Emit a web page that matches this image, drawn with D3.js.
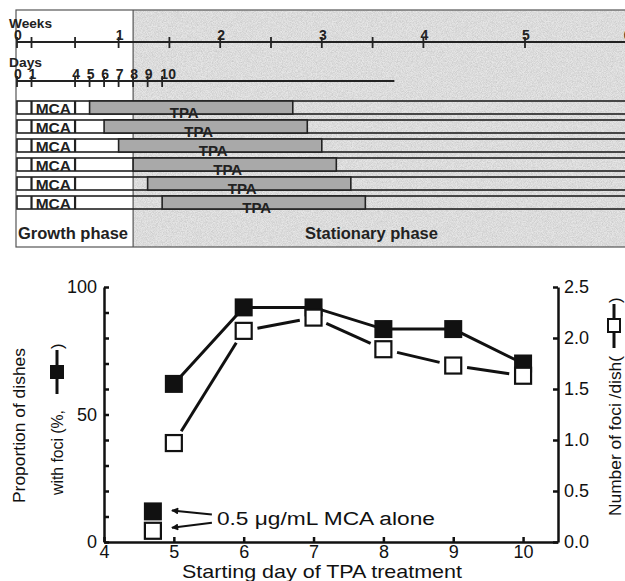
<!DOCTYPE html>
<html>
<head>
<meta charset="utf-8">
<script src="https://cdn.jsdelivr.net/npm/d3@7"></script>
<style>
  body { margin: 0; background: #fff; }
  svg { display: block; }
  .bold { font-family: "Liberation Sans", Arial, sans-serif; font-weight: bold; fill: #222; }
  .lab { font-family: "Liberation Sans", Arial, sans-serif; fill: #111; }
</style>
</head>
<body>
<svg id="chart"></svg>
<script>
// ---- data: timeline panel ----
const weekTickDays = [0, 1, 4, 7, 10.5, 14, 17.5, 21, 24.5, 28, 35, 42];
const weekLabels = [0, 1, 2, 3, 4, 5, 6];
const dayTicks = [0, 1, 4, 5, 6, 7, 8, 9, 10];
const mcaPeriod = [1, 4];
const tpaStarts = [5, 6, 7, 8, 9, 10];
const tpaLength = 14;
const growthEnd = 8;
const dayLineEnd = 26;

// ---- data: result chart ----
const startDays = [5, 6, 7, 8, 9, 10];
const propDishes = [62, 92, 92, 83.5, 83.5, 70];   // % (filled squares)
const fociPerDish = [0.97, 2.07, 2.2, 1.89, 1.73, 1.63]; // open squares
const aloneDay = 4.7;
const aloneProp = 12;
const aloneFoci = 0.11;
const leftTicks = [0, 10, 20, 30, 40, 50, 60, 70, 80, 90, 100];
const rightTicks = [0, 0.5, 1, 1.5, 2, 2.5];
const xTicks = [4, 5, 6, 7, 8, 9, 10];

const svg = d3.select("#chart").attr("width", 625).attr("height", 581);
const defs = svg.append("defs");

// grainy grey like the scanned original
const grain = defs.append("filter").attr("id", "grain").attr("x", 0).attr("y", 0)
  .attr("width", 1).attr("height", 1);
grain.append("feTurbulence").attr("type", "fractalNoise").attr("baseFrequency", 1.2)
  .attr("numOctaves", 1).attr("seed", 3).attr("result", "n");
grain.append("feColorMatrix").attr("in", "n").attr("type", "matrix")
  .attr("values", "0 0 0 0 0  0 0 0 0 0  0 0 0 0 0  0 0 0 0.5 -0.15").attr("result", "dots");
grain.append("feComposite").attr("in", "dots").attr("in2", "SourceGraphic").attr("operator", "atop");

// ================= top panel =================
const xd = d3.scaleLinear().domain([0, 35]).range([17, 525]);
const panel = svg.append("g");

panel.append("rect").attr("x", xd(growthEnd)).attr("y", 10)
  .attr("width", 700).attr("height", 237).attr("fill", "#e6e6e6").attr("filter", "url(#grain)");
panel.append("rect").attr("x", 16).attr("y", 10)
  .attr("width", xd(growthEnd) - 16).attr("height", 237).attr("fill", "#fff");
panel.append("rect").attr("x", 16).attr("y", 10).attr("width", 700).attr("height", 237)
  .attr("fill", "none").attr("stroke", "#555").attr("stroke-width", 1.2);
panel.append("line").attr("x1", xd(growthEnd)).attr("x2", xd(growthEnd))
  .attr("y1", 10).attr("y2", 247).attr("stroke", "#555").attr("stroke-width", 1.2);

// weeks axis
const weekY = 42;
panel.append("line").attr("x1", xd(0)).attr("x2", 640).attr("y1", weekY).attr("y2", weekY)
  .attr("stroke", "#222").attr("stroke-width", 2);
panel.selectAll(".wt").data(weekTickDays).join("line")
  .attr("x1", d => xd(d)).attr("x2", d => xd(d))
  .attr("y1", weekY - 5).attr("y2", weekY + 6)
  .attr("stroke", "#222").attr("stroke-width", 1.8);
panel.selectAll(".wl").data(weekLabels).join("text").attr("class", "bold")
  .attr("x", d => xd(d * 7) + 1).attr("y", weekY - 2)
  .attr("text-anchor", "middle").attr("font-size", 14).text(d => d);
panel.append("text").attr("class", "bold").attr("x", 9).attr("y", 28)
  .attr("font-size", 12.5).attr("textLength", 43).attr("lengthAdjust", "spacingAndGlyphs").text("Weeks");

// days axis
const dayY = 81;
panel.append("line").attr("x1", xd(0)).attr("x2", xd(dayLineEnd)).attr("y1", dayY).attr("y2", dayY)
  .attr("stroke", "#222").attr("stroke-width", 2);
panel.selectAll(".dt").data(dayTicks).join("line")
  .attr("x1", d => xd(d)).attr("x2", d => xd(d))
  .attr("y1", dayY - 5).attr("y2", dayY + 6)
  .attr("stroke", "#222").attr("stroke-width", 1.8);
panel.selectAll(".dl").data(dayTicks).join("text").attr("class", "bold")
  .attr("x", d => xd(d) + (d === 10 ? 6 : 1)).attr("y", dayY - 2)
  .attr("text-anchor", "middle").attr("font-size", 14).text(d => d);
panel.append("text").attr("class", "bold").attr("x", 9).attr("y", 67)
  .attr("font-size", 12.5).attr("textLength", 33).attr("lengthAdjust", "spacingAndGlyphs").text("Days");

// treatment rows
const rowY = d3.scaleBand().domain(d3.range(tpaStarts.length)).range([101, 209]).paddingInner(0.316);
const rows = panel.selectAll(".row").data(tpaStarts).join("g")
  .attr("transform", (d, i) => `translate(0,${rowY(i)})`);
const rh = rowY.bandwidth();
rows.append("rect").attr("x", xd(0)).attr("y", 0).attr("width", 700).attr("height", rh)
  .attr("fill", "none").attr("stroke", "#222").attr("stroke-width", 1.6);
rows.selectAll(".mcaSep").data(mcaPeriod).join("line")
  .attr("x1", d => xd(d)).attr("x2", d => xd(d)).attr("y1", 0).attr("y2", rh)
  .attr("stroke", "#222").attr("stroke-width", 2.2);
rows.append("text").attr("class", "bold")
  .attr("x", xd((mcaPeriod[0] + mcaPeriod[1]) / 2)).attr("y", rh)
  .attr("text-anchor", "middle").attr("font-size", 15.5).text("MCA");
rows.append("rect").attr("x", d => xd(d)).attr("y", 0)
  .attr("width", d => xd(d + tpaLength) - xd(d)).attr("height", rh)
  .attr("fill", "#a9a9a9").attr("stroke", "#222").attr("stroke-width", 1.6);
rows.append("text").attr("class", "bold")
  .attr("x", d => xd(d + tpaLength / 2) - 7).attr("y", rh + 4)
  .attr("text-anchor", "middle").attr("font-size", 15).text("TPA");

panel.append("text").attr("class", "bold").attr("x", 18).attr("y", 239)
  .attr("font-size", 16.5).text("Growth phase");
panel.append("text").attr("class", "bold").attr("x", 305).attr("y", 239)
  .attr("font-size", 16.5).text("Stationary phase");

// ================= result chart =================
const x = d3.scaleLinear().domain([4, 10.5]).range([104, 558]);
const yL = d3.scaleLinear().domain([0, 100]).range([542, 287]);
const yR = d3.scaleLinear().domain([0, 2.5]).range([542, 287]);

const chart = svg.append("g");

const xAxis = d3.axisBottom(x).tickValues(xTicks).tickSizeInner(-5).tickSizeOuter(0).tickPadding(3)
  .tickFormat(d3.format("d"));
const leftAxis = d3.axisLeft(yL).tickValues(leftTicks).tickSizeInner(-5).tickSizeOuter(0).tickPadding(7)
  .tickFormat(d => (d % 50 === 0 ? d : ""));
const rightAxis = d3.axisRight(yR).tickValues(rightTicks).tickSizeInner(-5).tickSizeOuter(0).tickPadding(6)
  .tickFormat(d3.format(".1f"));

function styleAxis(g) {
  g.select(".domain").attr("stroke", "#111").attr("stroke-width", 2.5);
  g.selectAll(".tick line").attr("stroke", "#111").attr("stroke-width", 2.5);
  g.selectAll(".tick text").attr("font-family", "Liberation Sans, Arial, sans-serif")
    .attr("font-size", 18).attr("fill", "#111");
}
chart.append("g").attr("transform", `translate(0,${yL(0)})`).call(xAxis).call(styleAxis);
chart.append("g").attr("transform", `translate(${x(4)},0)`).call(leftAxis).call(styleAxis);
chart.append("g").attr("transform", `translate(${x(10.5)},0)`).call(rightAxis).call(styleAxis);

// filled series (left axis)
const lineL = d3.line().x((d, i) => x(startDays[i])).y(d => yL(d));
chart.append("path").datum(propDishes).attr("d", lineL)
  .attr("fill", "none").attr("stroke", "#111").attr("stroke-width", 3);

// open series (right axis) - segments stop short of the squares
const pts = fociPerDish.map((v, i) => [x(startDays[i]), yR(v)]);
const gap = 14;
const segs = d3.pairs(pts).map(([a, b]) => {
  const dx = b[0] - a[0], dy = b[1] - a[1], len = Math.hypot(dx, dy);
  const ux = dx / len, uy = dy / len;
  return [a[0] + ux * gap, a[1] + uy * gap, b[0] - ux * gap, b[1] - uy * gap];
});
chart.selectAll(".seg").data(segs).join("line")
  .attr("x1", d => d[0]).attr("y1", d => d[1]).attr("x2", d => d[2]).attr("y2", d => d[3])
  .attr("stroke", "#111").attr("stroke-width", 3);

const fs = 18, os = 16;
chart.selectAll(".fsq").data(propDishes).join("rect")
  .attr("x", (d, i) => x(startDays[i]) - fs / 2).attr("y", d => yL(d) - fs / 2)
  .attr("width", fs).attr("height", fs).attr("fill", "#111");
chart.selectAll(".osq").data(fociPerDish).join("rect")
  .attr("x", (d, i) => x(startDays[i]) - os / 2).attr("y", d => yR(d) - os / 2)
  .attr("width", os).attr("height", os).attr("fill", "#fff")
  .attr("stroke", "#111").attr("stroke-width", 2.2);

// MCA-alone points
chart.append("rect").attr("x", x(aloneDay) - os / 2).attr("y", yR(aloneFoci) - os / 2)
  .attr("width", os).attr("height", os).attr("fill", "#fff")
  .attr("stroke", "#111").attr("stroke-width", 2.2);
chart.append("rect").attr("x", x(aloneDay) - fs / 2).attr("y", yL(aloneProp) - fs / 2)
  .attr("width", fs).attr("height", fs).attr("fill", "#111");

// arrows + annotation
defs.append("marker").attr("id", "ah").attr("viewBox", "0 0 10 10")
  .attr("refX", 9).attr("refY", 5).attr("markerWidth", 4.5).attr("markerHeight", 3.5)
  .attr("orient", "auto").attr("markerUnits", "strokeWidth")
  .append("path").attr("d", "M0,0 L10,5 L0,10 Z").attr("fill", "#111");
const ax0 = x(aloneDay) + 19, ax1 = ax0 + 40;
chart.append("line").attr("x1", ax1).attr("y1", yL(aloneProp) + 3).attr("x2", ax0).attr("y2", yL(aloneProp) - 1)
  .attr("stroke", "#111").attr("stroke-width", 2).attr("marker-end", "url(#ah)");
chart.append("line").attr("x1", ax1).attr("y1", yR(aloneFoci) - 8).attr("x2", ax0).attr("y2", yR(aloneFoci) - 3)
  .attr("stroke", "#111").attr("stroke-width", 2).attr("marker-end", "url(#ah)");
chart.append("text").attr("class", "lab").attr("x", ax1 + 5).attr("y", 525)
  .attr("font-size", 18).attr("textLength", 218).attr("lengthAdjust", "spacingAndGlyphs")
  .text("0.5 μg/mL MCA alone");

// axis titles
chart.append("text").attr("class", "lab").attr("x", 322).attr("y", 578)
  .attr("text-anchor", "middle")
  .attr("font-size", 19).attr("textLength", 280).attr("lengthAdjust", "spacingAndGlyphs")
  .text("Starting day of TPA treatment");

chart.append("text").attr("class", "lab")
  .attr("transform", "translate(25,503) rotate(-90)")
  .attr("font-size", 17).attr("textLength", 155).attr("lengthAdjust", "spacingAndGlyphs")
  .text("Proportion of dishes");
chart.append("text").attr("class", "lab")
  .attr("transform", "translate(63,495) rotate(-90)")
  .attr("font-size", 17).attr("textLength", 85).attr("lengthAdjust", "spacingAndGlyphs")
  .text("with foci (%,");
chart.append("line").attr("x1", 57).attr("x2", 57).attr("y1", 350).attr("y2", 394)
  .attr("stroke", "#111").attr("stroke-width", 3);
chart.append("rect").attr("x", 50).attr("y", 365).attr("width", 14).attr("height", 14).attr("fill", "#111");
chart.append("text").attr("class", "lab")
  .attr("transform", "translate(63,349) rotate(-90)")
  .attr("font-size", 17).text(")");

chart.append("text").attr("class", "lab")
  .attr("transform", "translate(621,516) rotate(-90)")
  .attr("font-size", 17).attr("textLength", 160).attr("lengthAdjust", "spacingAndGlyphs")
  .text("Number of foci /dish(");
chart.append("line").attr("x1", 614).attr("x2", 614).attr("y1", 304).attr("y2", 348)
  .attr("stroke", "#111").attr("stroke-width", 3);
chart.append("rect").attr("x", 608).attr("y", 319).attr("width", 12).attr("height", 13)
  .attr("fill", "#fff").attr("stroke", "#111").attr("stroke-width", 2);
chart.append("text").attr("class", "lab")
  .attr("transform", "translate(621,303) rotate(-90)")
  .attr("font-size", 17).text(")");
</script>
</body>
</html>
